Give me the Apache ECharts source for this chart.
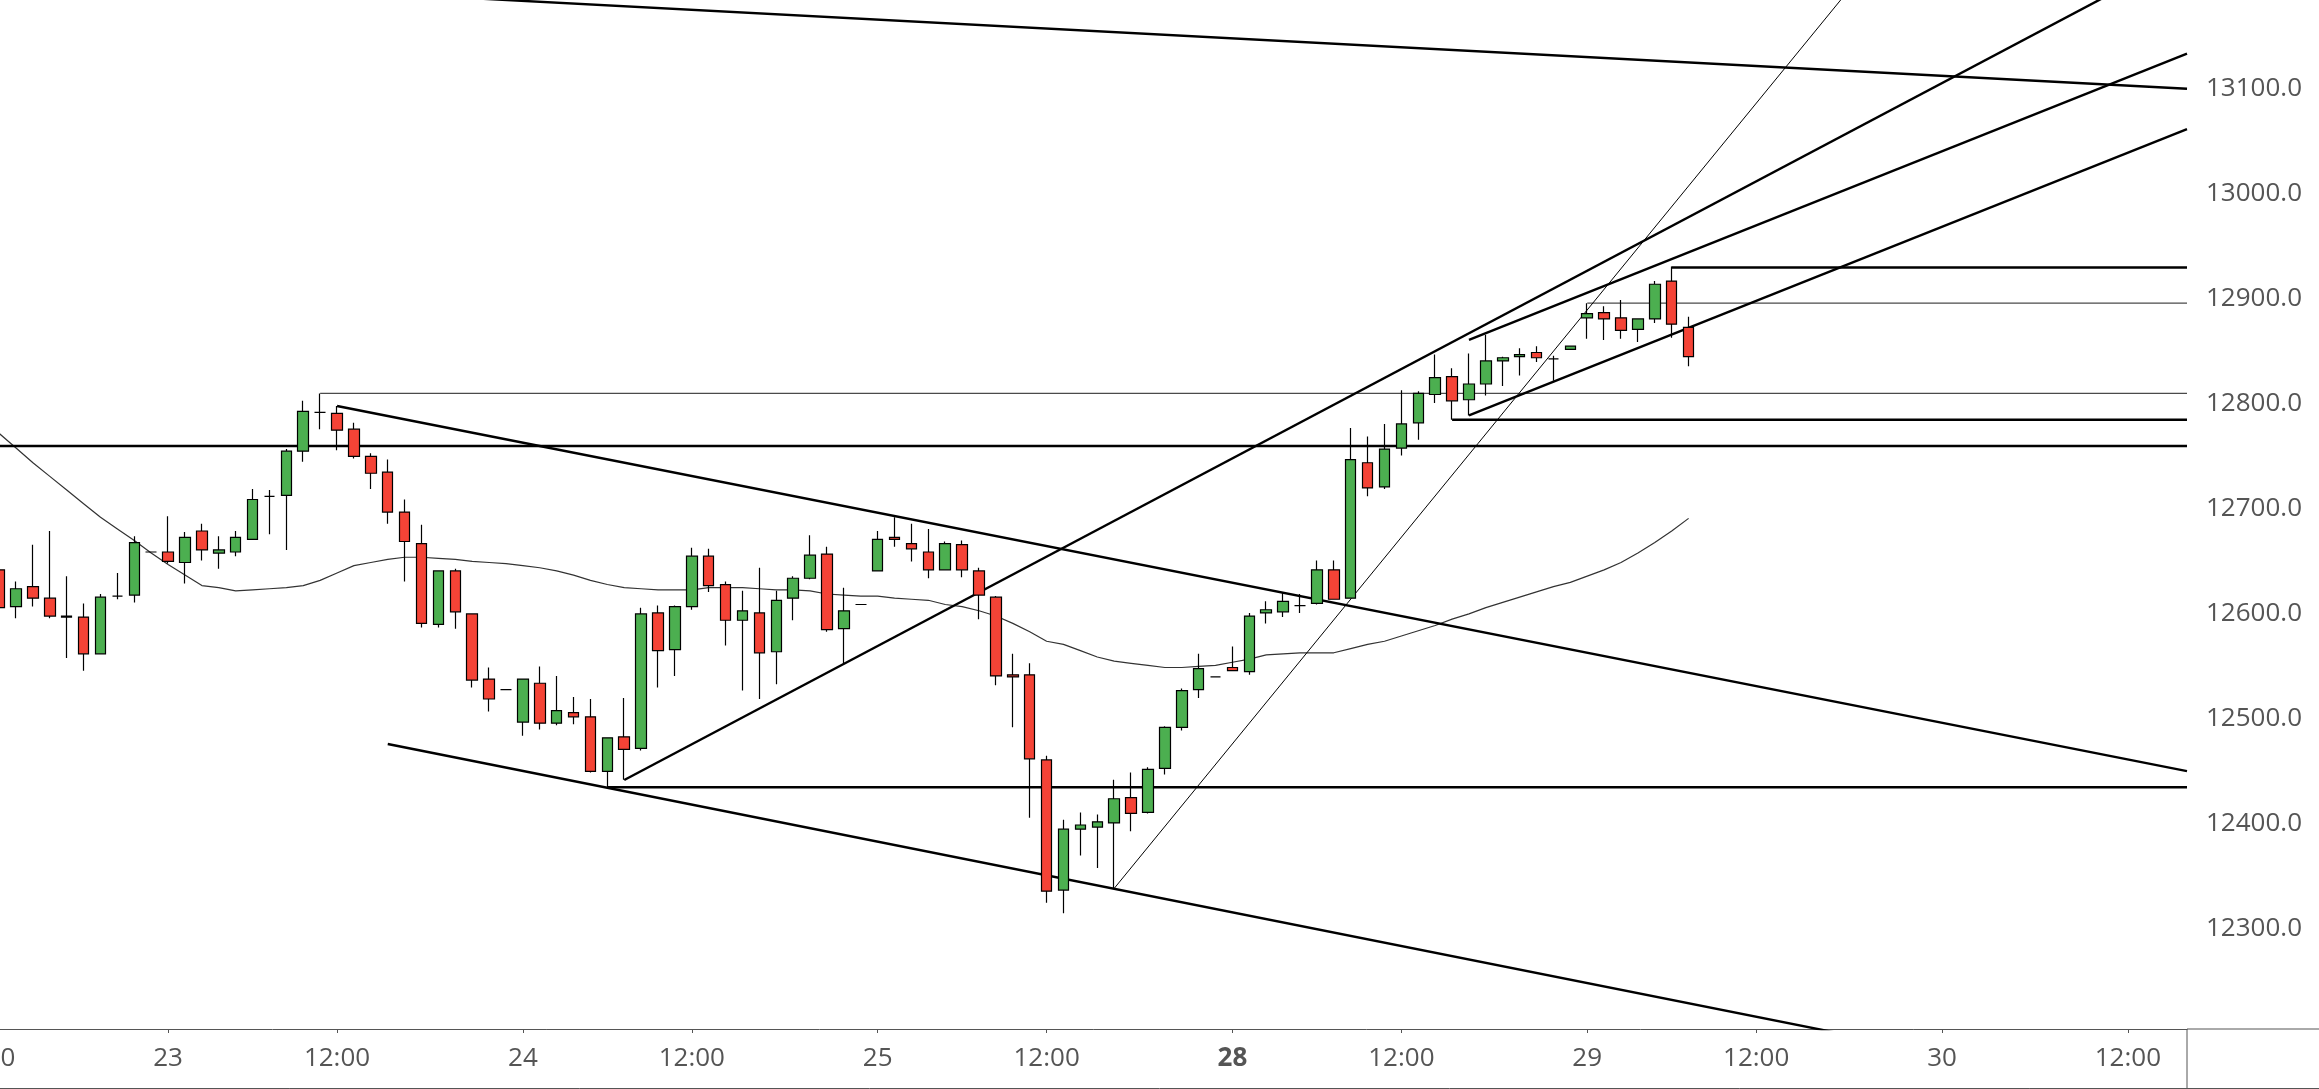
<!DOCTYPE html>
<html>
<head>
<meta charset="utf-8">
<script src="https://cdn.jsdelivr.net/npm/echarts@6/dist/echarts.min.js"></script>
<style>
  html, body { margin: 0; padding: 0; background: #fff; }
  #chart_candles { width: 2319px; height: 1089px; }
</style>
</head>
<body>
<div id="chart_candles"></div>
<script>
// sessions on the time axis: day of month, first and last hourly bar
const sessionDays = ["22", "23", "24", "25", "28", "29", "30"];
const sessionFirstHour = [12, 2, 2, 2, 2, 2, 1];
const sessionLastHour = [22, 22, 22, 22, 22, 22, 15];
const boldDays = ["28"];
const firstCandleIndex = 1; // first bar (22nd 12:00) has no candle drawn

// hourly OHLC, one entry per bar from the 22nd 13:00 onwards
const opens = [
  12642, 12607, 12626, 12615, 12598, 12597, 12562, 12617, 12618, 12659,
  12659, 12649, 12679, 12658, 12659, 12671, 12712, 12713, 12755, 12792,
  12791, 12776, 12750, 12735, 12697, 12667, 12590, 12641, 12600, 12538,
  12528, 12497, 12534, 12496, 12506, 12502, 12450, 12483, 12472, 12601,
  12566, 12607, 12655, 12628, 12594, 12601, 12564, 12615, 12634, 12657,
  12586, 12609, 12641, 12673, 12667, 12659, 12642, 12666, 12641, 12616,
  12542, 12542, 12461, 12337, 12395, 12397, 12401, 12425, 12411, 12453,
  12492, 12528, 12540, 12549, 12545, 12601, 12602, 12608, 12610, 12642,
  12615, 12744, 12721, 12758, 12782, 12809, 12826, 12804, 12819, 12841,
  12845, 12849, 12843, 12852, 12882, 12887, 12882, 12871, 12881, 12917,
  12873,
];
const closes = [
  12606, 12624, 12615, 12598, 12597, 12562, 12616, 12617, 12668, 12659,
  12650, 12673, 12661, 12661, 12673, 12709, 12712, 12755, 12793, 12792,
  12775, 12750, 12734, 12697, 12669, 12591, 12641, 12602, 12537, 12519,
  12528, 12538, 12496, 12508, 12502, 12450, 12482, 12471, 12600, 12565,
  12607, 12655, 12627, 12594, 12603, 12563, 12613, 12634, 12656, 12585,
  12603, 12609, 12671, 12671, 12662, 12642, 12667, 12642, 12618, 12541,
  12540, 12462, 12336, 12395, 12399, 12402, 12424, 12410, 12452, 12492,
  12527, 12548, 12540, 12546, 12598, 12604, 12612, 12608, 12642, 12614,
  12747, 12720, 12757, 12781, 12810, 12825, 12803, 12819, 12841, 12844,
  12847, 12844, 12843, 12855, 12886, 12881, 12870, 12881, 12914, 12876,
  12845,
];
const lows = [
  12600, 12596, 12607, 12596, 12558, 12546, 12562, 12614, 12611, 12659,
  12648, 12629, 12651, 12643, 12655, 12671, 12676, 12661, 12745, 12776,
  12756, 12748, 12719, 12686, 12631, 12587, 12587, 12586, 12530, 12507,
  12528, 12484, 12490, 12494, 12495, 12449, 12435, 12442, 12470, 12530,
  12541, 12604, 12621, 12570, 12527, 12519, 12533, 12594, 12633, 12583,
  12553, 12609, 12641, 12664, 12650, 12634, 12642, 12635, 12595, 12532,
  12492, 12406, 12325, 12315, 12370, 12358, 12339, 12393, 12410, 12447,
  12489, 12520, 12540, 12546, 12542, 12591, 12597, 12601, 12609, 12614,
  12615, 12712, 12719, 12751, 12766, 12801, 12785, 12789, 12808, 12817,
  12827, 12840, 12822, 12852, 12862, 12861, 12862, 12859, 12877, 12863,
  12836,
];
const highs = [
  12648, 12631, 12666, 12679, 12636, 12610, 12619, 12639, 12674, 12659,
  12693, 12678, 12686, 12674, 12679, 12719, 12718, 12757, 12803, 12810,
  12798, 12782, 12753, 12747, 12709, 12685, 12641, 12643, 12600, 12549,
  12528, 12538, 12550, 12541, 12521, 12519, 12482, 12520, 12606, 12608,
  12608, 12663, 12662, 12631, 12622, 12644, 12622, 12636, 12675, 12664,
  12625, 12609, 12679, 12692, 12686, 12681, 12669, 12670, 12644, 12617,
  12562, 12553, 12465, 12404, 12411, 12409, 12442, 12449, 12454, 12493,
  12529, 12562, 12540, 12569, 12601, 12612, 12620, 12619, 12651, 12651,
  12777, 12769, 12781, 12813, 12812, 12847, 12834, 12848, 12866, 12845,
  12853, 12855, 12846, 12855, 12896, 12893, 12899, 12881, 12917, 12931,
  12883,
];
// moving average, same bars
const maValues = [
  12772, 12758, 12744, 12731, 12718, 12705, 12692, 12681, 12670, 12658,
  12647, 12637, 12627, 12625, 12622, 12623, 12624, 12625, 12627, 12632,
  12639, 12646, 12649, 12652, 12654, 12654, 12653, 12652, 12650, 12649,
  12648, 12646, 12644, 12641, 12637, 12632, 12628, 12625, 12624, 12623,
  12623, 12623, 12625, 12625, 12625, 12624, 12623, 12623, 12622, 12619,
  12618, 12617, 12617, 12615, 12614, 12613, 12609, 12607, 12603, 12598,
  12591, 12583, 12574, 12571, 12565, 12559, 12555, 12553, 12551, 12549,
  12549, 12550, 12551, 12554, 12557, 12561, 12562, 12563, 12563, 12563,
  12567, 12571, 12574, 12579, 12584, 12589, 12595, 12600, 12606, 12611,
  12616, 12621, 12626, 12630, 12636, 12642, 12649, 12658, 12668, 12679,
  12691,
];

// drawn trend lines: two anchors each [bar index, price]
const trendAnchors = [
  [[31, 13184.7], [130.4, 13100.2]],
  [[67, 12338.6], [110, 13184.7]],
  [[38, 12441.8], [125.3, 13184.7]],
  [[21, 12798], [130.4, 12450.6]],
  [[24, 12476.1], [108.3, 12205.8]],
  [[88, 12789], [130.4, 13061]],
  [[88, 12861], [130.4, 13133]],
];
const trendExtend = ["both", "right", "right", "right", "right", "right", "right"];
// horizontal levels: price and bar index where they start
const levelPrices = [12760, 12810, 12785, 12896, 12930, 12435];
const levelStarts = [null, 20, 87, 95, 100, 37];

const priceTicks = [12300, 12400, 12500, 12600, 12700, 12800, 12900, 13000, 13100];
const priceMin = 12204.7;
const priceMax = 13184.7;

// ---- build axis categories
const categories = [];
const tickLabels = {};
sessionDays.forEach((day, s) => {
  for (let h = sessionFirstHour[s]; h <= sessionLastHour[s]; h++) {
    const idx = categories.length;
    categories.push(day + " " + String(h).padStart(2, "0") + ":00");
    if (h === 12) tickLabels[idx] = "12:00";
    else if (h === sessionFirstHour[s] && s > 0)
      tickLabels[idx] = boldDays.includes(day) ? "{b|" + day + "}" : day;
  }
});
const xMin = -0.5;
const xMax = categories.length - 0.5;

const candleData = opens.map((o, i) => [
  firstCandleIndex + i, o, closes[i], lows[i], highs[i],
]);
const maData = maValues.map((v, i) => [firstCandleIndex + i, v]);

const extendTo = (p1, p2, x) => {
  const s = (p2[1] - p1[1]) / (p2[0] - p1[0]);
  return [x, p1[1] + s * (x - p1[0])];
};

const trendSeries = trendAnchors.map((pts, i) => {
  const [p1, p2] = pts;
  const data = trendExtend[i] === "both"
    ? [extendTo(p1, p2, xMin), extendTo(p1, p2, xMax)]
    : [p1, extendTo(p1, p2, xMax)];
  return {
    type: "line",
    xAxisIndex: 1,
    data: data,
    symbol: "none",
    silent: true,
    clip: true,
    lineStyle: { color: "#000", width: i === 1 ? 1 : 2.4 },
    z: 3,
  };
});

const levelSeries = levelPrices.map((p, i) => {
  const thin = i === 1 || i === 3;
  const start = levelStarts[i] == null ? xMin : levelStarts[i];
  return {
    type: "line",
    xAxisIndex: 1,
    data: [[start, p], [xMax, p]],
    symbol: "none",
    silent: true,
    clip: true,
    lineStyle: { color: thin ? "#4a4a4a" : "#000", width: thin ? 1.2 : 2.4 },
    z: 3,
  };
});

const W = 2319, H = 1089;
const gridLeft = -26.2, gridRight = 132, gridBottom = 60;
const plotRight = W - gridRight;
const plotBottom = H - gridBottom;
const axisColor = "#555";
const labelFont = { color: "#555", fontSize: 26, fontFamily: "Open Sans" };

const chart = echarts.init(document.getElementById("chart_candles"));
chart.setOption({
  backgroundColor: "#fff",
  animation: false,
  grid: {
    left: gridLeft, right: gridRight, top: 0, bottom: gridBottom,
    outerBoundsMode: "none",
  },
  xAxis: [
    {
      type: "category",
      data: categories,
      boundaryGap: true,
      axisLine: { show: true, lineStyle: { color: axisColor, width: 1 } },
      axisTick: {
        show: true, length: 4, alignWithLabel: true,
        interval: (idx) => tickLabels[idx] !== undefined,
        lineStyle: { color: axisColor },
      },
      axisLabel: {
        ...labelFont,
        margin: 17,
        interval: (idx) => tickLabels[idx] !== undefined,
        formatter: (val, idx) => tickLabels[idx] || "",
        rich: { b: { ...labelFont, fontWeight: "bold" } },
      },
      splitLine: { show: false },
    },
    { type: "value", min: xMin, max: xMax, show: false },
  ],
  yAxis: {
    type: "value",
    position: "right",
    min: priceMin,
    max: priceMax,
    axisLine: { show: true, lineStyle: { color: axisColor, width: 1 } },
    axisTick: { show: true, length: 5, customValues: priceTicks, lineStyle: { color: axisColor } },
    axisLabel: {
      ...labelFont,
      margin: 19,
      customValues: priceTicks,
      formatter: (v) => v.toFixed(1),
    },
    splitLine: { show: false },
  },
  graphic: [
    { type: "line", silent: true, shape: { x1: plotRight, y1: plotBottom, x2: plotRight, y2: H },
      style: { stroke: axisColor, lineWidth: 1 } },
    { type: "line", silent: true, shape: { x1: plotRight, y1: plotBottom, x2: W, y2: plotBottom },
      style: { stroke: axisColor, lineWidth: 1 } },
    { type: "line", silent: true, shape: { x1: 0, y1: H - 0.5, x2: W, y2: H - 0.5 },
      style: { stroke: axisColor, lineWidth: 1 } },
  ],
  series: [
    {
      type: "line",
      xAxisIndex: 1,
      data: maData,
      symbol: "none",
      silent: true,
      lineStyle: { color: "#333", width: 1.2 },
      z: 2,
    },
    ...levelSeries,
    ...trendSeries,
    {
      type: "candlestick",
      xAxisIndex: 1,
      data: candleData,
      encode: { x: 0, y: [1, 2, 3, 4] },
      barWidth: 11,
      itemStyle: {
        color: "#4caf50",
        color0: "#f44336",
        borderColor: "#000",
        borderColor0: "#000",
        borderColorDoji: "#000",
        borderWidth: 1.2,
      },
      z: 4,
    },
  ],
});
</script>
</body>
</html>
